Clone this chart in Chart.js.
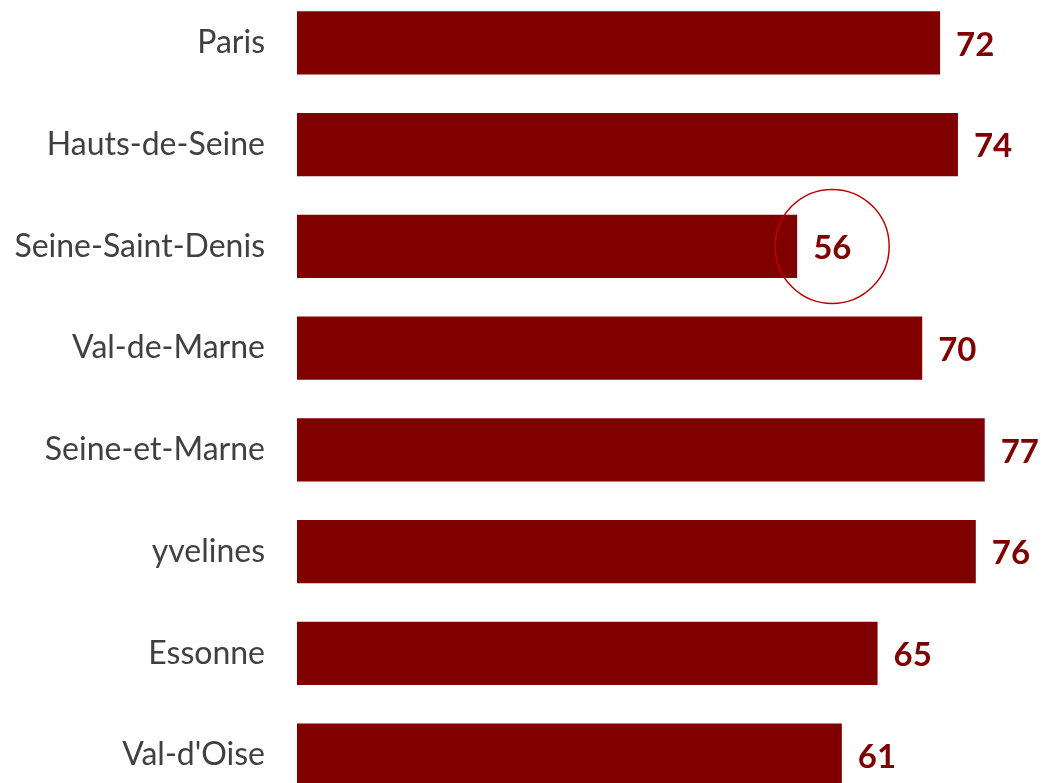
<!DOCTYPE html>
<html>
<head>
<meta charset="utf-8">
<script src="https://cdn.jsdelivr.net/npm/chart.js@4/dist/chart.umd.min.js"></script>
<style>
  html, body { margin: 0; padding: 0; background: #fff; overflow: hidden; }
  #wrap { position: absolute; left: 0; top: -8px; width: 1041px; height: 814px; }
</style>
</head>
<body>
<div id="wrap"><canvas id="chart"></canvas></div>
<script>
// DATA
const departements = [
  "Paris",
  "Hauts-de-Seine",
  "Seine-Saint-Denis",
  "Val-de-Marne",
  "Seine-et-Marne",
  "yvelines",
  "Essonne",
  "Val-d'Oise",
];
const scores = [72, 74, 56, 70, 77, 76, 65, 61];
const highlighted = "Seine-Saint-Denis";

const barColor = "#800000";
const labelFont = "'Lato', 'Open Sans', sans-serif";

// value labels at the end of each bar
const valueLabels = {
  id: "valueLabels",
  afterDatasetsDraw(chart) {
    const ctx = chart.ctx;
    const meta = chart.getDatasetMeta(0);
    ctx.save();
    ctx.fillStyle = barColor;
    ctx.font = "bold 33px " + labelFont;
    ctx.textAlign = "left";
    ctx.textBaseline = "middle";
    meta.data.forEach((bar, i) => {
      ctx.fillText(String(scores[i]), bar.x + 16, bar.y + 2);
    });
    ctx.restore();
  },
};

// red circle around the highlighted value
const highlightCircle = {
  id: "highlightCircle",
  afterDatasetsDraw(chart) {
    const i = departements.indexOf(highlighted);
    if (i < 0) return;
    const bar = chart.getDatasetMeta(0).data[i];
    const ctx = chart.ctx;
    ctx.save();
    ctx.strokeStyle = "#c00000";
    ctx.lineWidth = 1.5;
    ctx.beginPath();
    ctx.arc(bar.x + 35, bar.y, 57, 0, Math.PI * 2);
    ctx.stroke();
    ctx.restore();
  },
};

new Chart(document.getElementById("chart").getContext("2d"), {
  type: "bar",
  data: {
    labels: departements,
    datasets: [
      {
        data: scores,
        backgroundColor: barColor,
        barPercentage: 0.62,
        categoryPercentage: 1,
      },
    ],
  },
  options: {
    indexAxis: "y",
    responsive: true,
    maintainAspectRatio: false,
    animation: false,
    layout: { padding: 0 },
    plugins: {
      legend: { display: false },
      tooltip: { enabled: false },
    },
    scales: {
      x: {
        display: false,
        min: 0,
        max: 83.3,
      },
      y: {
        grid: { display: false, drawTicks: false },
        border: { display: false },
        ticks: {
          color: "#404040",
          font: { family: labelFont, size: 32 },
          padding: 32,
        },
        afterFit(scale) {
          scale.width = 297;
          // labels may overflow top/bottom, the picture is cropped anyway
          scale.paddingTop = 0;
          scale.paddingBottom = 0;
        },
      },
    },
  },
  plugins: [valueLabels, highlightCircle],
});
</script>
</body>
</html>
